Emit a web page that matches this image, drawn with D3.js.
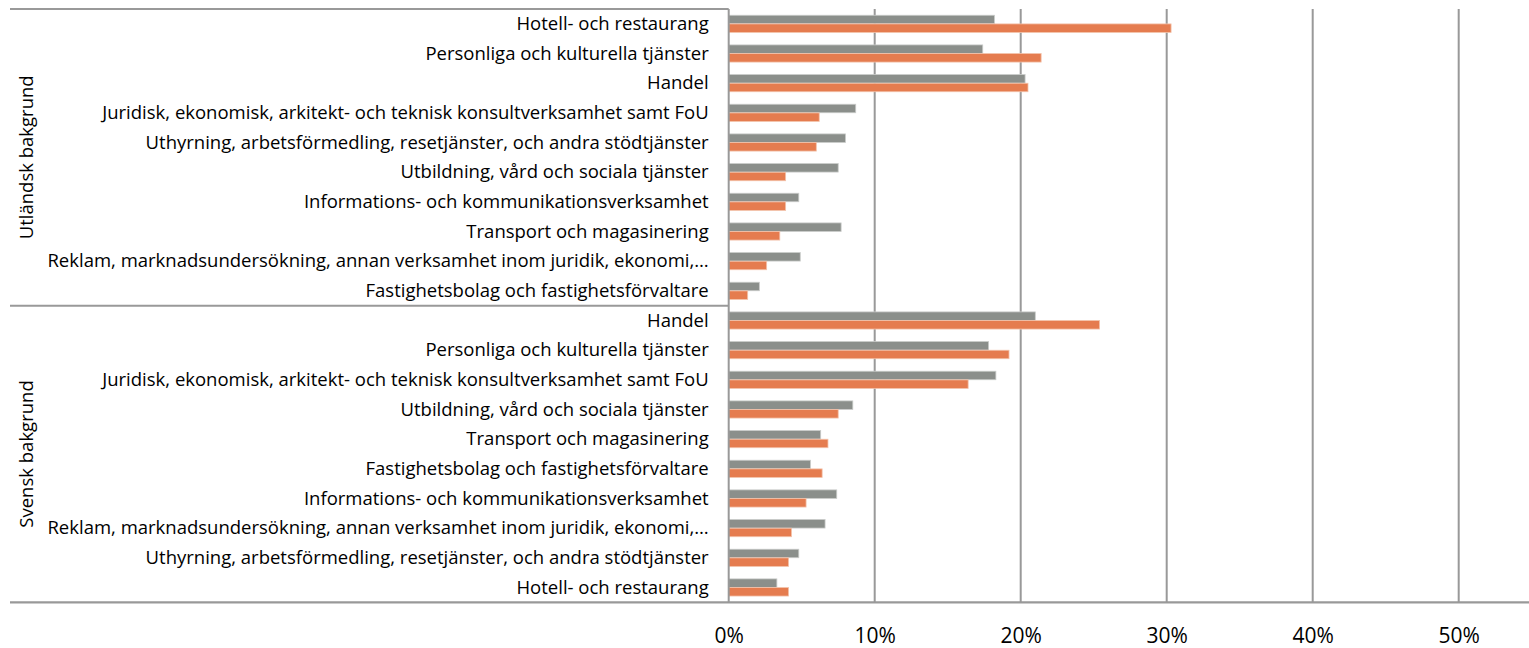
<!DOCTYPE html>
<html>
<head>
<meta charset="utf-8">
<script src="https://cdn.jsdelivr.net/npm/d3@7"></script>
<style>
  html, body { margin: 0; padding: 0; background: #ffffff; overflow: hidden; }
  svg { display: block; }
  text { font-family: "Open Sans", "Noto Sans", sans-serif; fill: #000; }
</style>
</head>
<body>
<svg id="chart" width="1529" height="648"></svg>
<script>
// Andel per bransch, två serier, uppdelat på bakgrund
const groups = ["Utländsk bakgrund", "Svensk bakgrund"];

const utlCategories = [
  "Hotell- och restaurang",
  "Personliga och kulturella tjänster",
  "Handel",
  "Juridisk, ekonomisk, arkitekt- och teknisk konsultverksamhet samt FoU",
  "Uthyrning, arbetsförmedling, resetjänster, och andra stödtjänster",
  "Utbildning, vård och sociala tjänster",
  "Informations- och kommunikationsverksamhet",
  "Transport och magasinering",
  "Reklam, marknadsundersökning, annan verksamhet inom juridik, ekonomi,…",
  "Fastighetsbolag och fastighetsförvaltare"
];
const utlSeries1 = [18.2, 17.4, 20.3, 8.7, 8.0, 7.5, 4.8, 7.7, 4.9, 2.1];
const utlSeries2 = [30.3, 21.4, 20.5, 6.2, 6.0, 3.9, 3.9, 3.5, 2.6, 1.3];

const sveCategories = [
  "Handel",
  "Personliga och kulturella tjänster",
  "Juridisk, ekonomisk, arkitekt- och teknisk konsultverksamhet samt FoU",
  "Utbildning, vård och sociala tjänster",
  "Transport och magasinering",
  "Fastighetsbolag och fastighetsförvaltare",
  "Informations- och kommunikationsverksamhet",
  "Reklam, marknadsundersökning, annan verksamhet inom juridik, ekonomi,…",
  "Uthyrning, arbetsförmedling, resetjänster, och andra stödtjänster",
  "Hotell- och restaurang"
];
const sveSeries1 = [21.0, 17.8, 18.3, 8.5, 6.3, 5.6, 7.4, 6.6, 4.8, 3.3];
const sveSeries2 = [25.4, 19.2, 16.4, 7.5, 6.8, 6.4, 5.3, 4.3, 4.1, 4.1];

const seriesNames = ["Serie 1", "Serie 2"];
const tickValues = [0, 10, 20, 30, 40, 50];

const colors = { "Serie 1": "#8b8f8b", "Serie 2": "#e57c4f" };
const strokes = { "Serie 1": "#c9cbc9", "Serie 2": "#f3c2aa" };

// Flat row table built from the arrays above
const rows = [];
[[groups[0], utlCategories, utlSeries1, utlSeries2],
 [groups[1], sveCategories, sveSeries1, sveSeries2]].forEach(([g, cats, s1, s2]) => {
  cats.forEach((c, i) => rows.push({ key: g + "|" + i, group: g, category: c, values: [s1[i], s2[i]] }));
});

const svg = d3.select("#chart");
const plotLeft = 728.7, plotTop = 9, plotBottom = 602.3, lineLeft = 10, lineRight = 1529;
const labelSize = 18.5;

const x = d3.scaleLinear().domain([0, 50]).range([plotLeft, plotLeft + 730]);
const y = d3.scaleBand().domain(rows.map(r => r.key)).range([plotTop, plotBottom])
  .paddingInner(0.41).paddingOuter(0.205);
const ySub = d3.scaleBand().domain(seriesNames).range([0, y.bandwidth()]).padding(0.02);

const lineColor = "#999999";

// Vertical gridlines
svg.append("g").selectAll("line")
  .data(tickValues.filter(v => v > 0))
  .join("line")
  .attr("x1", d => x(d)).attr("x2", d => x(d))
  .attr("y1", plotTop).attr("y2", plotBottom)
  .attr("stroke", lineColor).attr("stroke-width", 2);

// Bars
const rowG = svg.append("g").selectAll("g")
  .data(rows)
  .join("g")
  .attr("transform", d => `translate(0,${y(d.key)})`);

rowG.selectAll("rect")
  .data(d => d.values.map((v, i) => ({ name: seriesNames[i], value: v })))
  .join("rect")
  .attr("x", x(0))
  .attr("y", d => ySub(d.name))
  .attr("width", d => x(d.value) - x(0))
  .attr("height", ySub.bandwidth())
  .attr("fill", d => colors[d.name])
  .attr("stroke", d => strokes[d.name])
  .attr("stroke-width", 0.8);

// Category labels
svg.append("g").selectAll("text")
  .data(rows)
  .join("text")
  .attr("x", plotLeft - 20)
  .attr("y", d => y(d.key) + y.bandwidth() / 2)
  .attr("dy", "0.33em")
  .attr("text-anchor", "end")
  .attr("font-size", labelSize)
  .text(d => d.category);

// Group separators and axis lines
const sepY = [plotTop, y(rows[10].key) - y.step() * y.paddingInner() / 2];
svg.append("g").selectAll("line")
  .data(sepY)
  .join("line")
  .attr("x1", lineLeft).attr("x2", plotLeft)
  .attr("y1", d => d).attr("y2", d => d)
  .attr("stroke", lineColor).attr("stroke-width", 2);

svg.append("line")
  .attr("x1", lineLeft).attr("x2", lineRight)
  .attr("y1", plotBottom).attr("y2", plotBottom)
  .attr("stroke", lineColor).attr("stroke-width", 2.2);

svg.append("line")
  .attr("x1", plotLeft).attr("x2", plotLeft)
  .attr("y1", plotTop).attr("y2", plotBottom)
  .attr("stroke", lineColor).attr("stroke-width", 2);

// Group labels (rotated)
const groupSpan = [[plotTop, sepY[1]], [sepY[1], plotBottom]];
svg.append("g").selectAll("text")
  .data(groups)
  .join("text")
  .attr("transform", (d, i) => `translate(33,${(groupSpan[i][0] + groupSpan[i][1]) / 2}) rotate(-90)`)
  .attr("text-anchor", "middle")
  .attr("font-size", labelSize)
  .text(d => d);

// Bottom tick labels
const axis = d3.axisBottom(x).tickValues(tickValues).tickSize(0)
  .tickFormat(d => d + "%");
const axG = svg.append("g").attr("transform", `translate(0,${plotBottom})`).call(axis);
axG.select(".domain").remove();
axG.selectAll("text")
  .attr("y", 40.5)
  .attr("dy", 0)
  .attr("font-size", 21)
  .attr("font-family", "Open Sans, Noto Sans, sans-serif")
  .attr("fill", "#000");
</script>
</body>
</html>
